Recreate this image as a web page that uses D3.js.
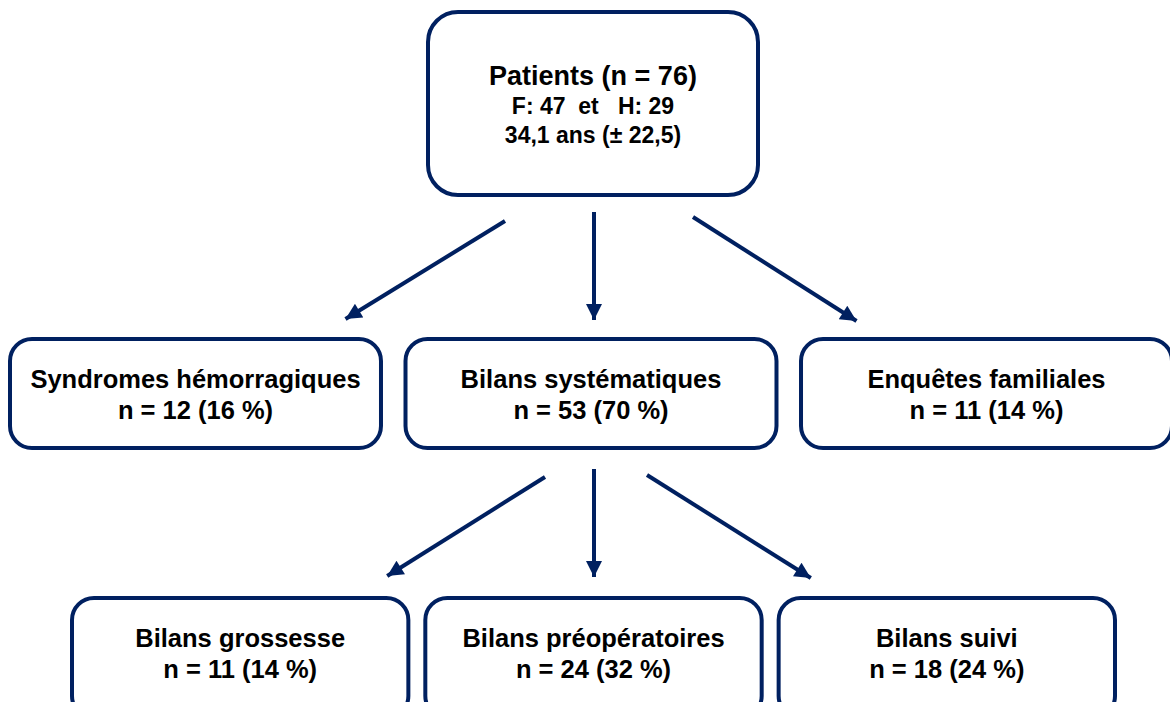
<!DOCTYPE html>
<html>
<head>
<meta charset="utf-8">
<script src="https://cdn.jsdelivr.net/npm/d3@7"></script>
<style>
	html, body { margin: 0; padding: 0; background: #fff; }
	svg text { font-family: "Liberation Sans", Arial, sans-serif; font-weight: bold; fill: #000; white-space: pre; }
</style>
</head>
<body>
<div id="chart"></div>
<script>
// Flowchart data
const rootTitle = 'Patients (n = 76)';
const rootLines = [ 'F: 47  et   H: 29', '34,1 ans (± 22,5)' ];

const level1Labels = [ 'Syndromes hémorragiques', 'Bilans systématiques', 'Enquêtes familiales' ];
const level1Counts = [ 12, 53, 11 ];
const level1Pct = [ 16, 70, 14 ];

const level2Labels = [ 'Bilans grossesse', 'Bilans préopératoires', 'Bilans suivi' ];
const level2Counts = [ 11, 24, 18 ];
const level2Pct = [ 14, 32, 24 ];

// index of the level-1 node that splits into level 2
const level2Parent = 1;

const width = 1170;
const height = 702;
const navy = '#002060';

const svg = d3.select( '#chart' )
	.append( 'svg' )
	.attr( 'width', width )
	.attr( 'height', height );

const defs = svg.append( 'defs' );
defs.append( 'marker' )
	.attr( 'id', 'arrow' )
	.attr( 'viewBox', '0 0 10 10' )
	.attr( 'refX', 10 )
	.attr( 'refY', 5 )
	.attr( 'markerUnits', 'userSpaceOnUse' )
	.attr( 'markerWidth', 18 )
	.attr( 'markerHeight', 16 )
	.attr( 'orient', 'auto' )
	.append( 'path' )
	.attr( 'd', 'M0,0 L10,5 L0,10 Z' )
	.attr( 'fill', navy );

// layout scales
const x1 = d3.scaleBand().domain( d3.range( 3 ) ).range( [ 10, 1172 ] ).paddingInner( 0.062 );
const x2 = d3.scaleBand().domain( d3.range( 3 ) ).range( [ 72, 1115 ] ).paddingInner( 0.048 );

const root = { x: 428, y: 12, w: 330, h: 183 };
const row1 = { y: 339, h: 109 };
const row2 = { y: 598, h: 120 };

function box( x, y, w, h, r ) {
	svg.append( 'rect' )
		.attr( 'x', x )
		.attr( 'y', y )
		.attr( 'width', w )
		.attr( 'height', h )
		.attr( 'rx', r )
		.attr( 'ry', r )
		.attr( 'fill', '#fff' )
		.attr( 'stroke', navy )
		.attr( 'stroke-width', 4 );
}

function label( cx, y, text, size ) {
	svg.append( 'text' )
		.attr( 'x', cx )
		.attr( 'y', y )
		.attr( 'text-anchor', 'middle' )
		.style( 'font-size', size + 'px' )
		.text( text );
}

function arrow( xa, ya, xb, yb ) {
	svg.append( 'line' )
		.attr( 'x1', xa )
		.attr( 'y1', ya )
		.attr( 'x2', xb )
		.attr( 'y2', yb )
		.attr( 'stroke', navy )
		.attr( 'stroke-width', 4 )
		.attr( 'marker-end', 'url(#arrow)' );
}

// root
box( root.x, root.y, root.w, root.h, 30 );
const rootCx = root.x + root.w / 2;
label( rootCx, 85, rootTitle, 27 );
rootLines.forEach( ( t, i ) => label( rootCx, 114 + i * 29, t, 23 ) );

// arrows root -> level 1 (null end offset = straight down)
const arrows1 = [
	{ sx: -88, sy: 221, ex: 150, ey: 319 },
	{ sx: 1, sy: 212, ex: null, ey: 320 },
	{ sx: 100, sy: 217, ex: -130, ey: 321 },
];
arrows1.forEach( ( a, i ) => {
	const cx = x1( i ) + x1.bandwidth() / 2;
	const xs = rootCx + a.sx;
	arrow( xs, a.sy, a.ex === null ? xs : cx + a.ex, a.ey );
} );

// level 1 boxes
level1Labels.forEach( ( t, i ) => {
	const x = x1( i );
	box( x, row1.y, x1.bandwidth(), row1.h, 22 );
	const cx = x + x1.bandwidth() / 2;
	label( cx, 388, t, 25.5 );
	label( cx, 419, `n = ${ level1Counts[ i ] } (${ level1Pct[ i ] } %)`, 25.5 );
} );

// arrows level 1 -> level 2
const pcx = x1( level2Parent ) + x1.bandwidth() / 2;
const arrows2 = [
	{ sx: -46, sy: 477, ex: 147, ey: 576 },
	{ sx: 3, sy: 469, ex: null, ey: 577 },
	{ sx: 56, sy: 475, ex: -136, ey: 578 },
];
arrows2.forEach( ( a, i ) => {
	const cx = x2( i ) + x2.bandwidth() / 2;
	const xs = pcx + a.sx;
	arrow( xs, a.sy, a.ex === null ? xs : cx + a.ex, a.ey );
} );

// level 2 boxes
level2Labels.forEach( ( t, i ) => {
	const x = x2( i );
	box( x, row2.y, x2.bandwidth(), row2.h, 22 );
	const cx = x + x2.bandwidth() / 2;
	label( cx, 647, t, 25.5 );
	label( cx, 678, `n = ${ level2Counts[ i ] } (${ level2Pct[ i ] } %)`, 25.5 );
} );
</script>
</body>
</html>
